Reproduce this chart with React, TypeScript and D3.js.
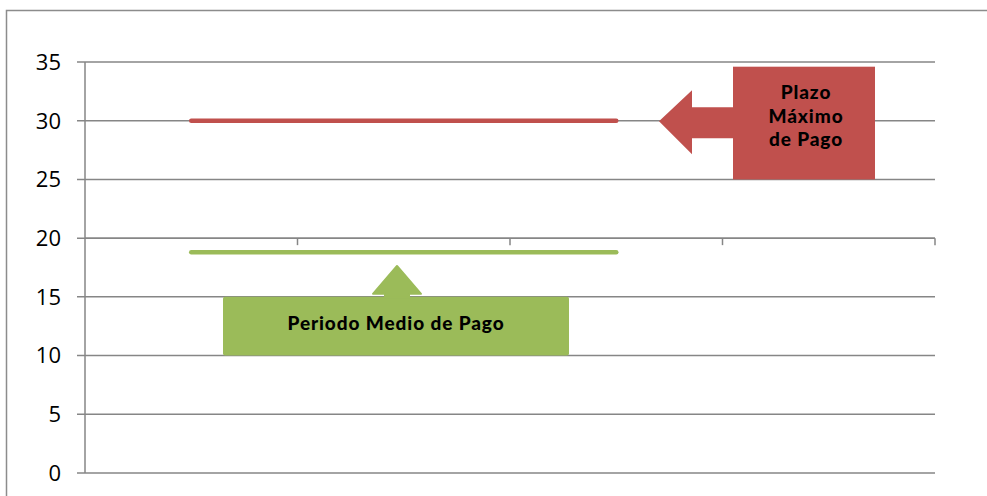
import React from "react";
import * as d3 from "d3";

const categories = ["A", "B", "C", "D"];
const plazoMaximo: (number | null)[] = [30, 30, 30, null];
const periodoMedio: (number | null)[] = [18.8, 18.8, 18.8, null];
const yTicks = [0, 5, 10, 15, 20, 25, 30, 35];
const axisCross = 20;
const redLabel = ["Plazo", "Máximo", "de Pago"];
const greenLabel = "Periodo Medio de Pago";

const W = 987;
const H = 496;
const RED = "#C0504D";
const GREEN = "#9BBB59";
const GRID = "#868686";

export default function App() {
  const x = d3.scaleBand<string>().domain(categories).range([85, 935]).paddingInner(0).paddingOuter(0);
  const y = d3.scaleLinear().domain([0, 35]).range([473, 62]);
  const cx = (c: string) => (x(c) as number) + x.bandwidth() / 2;

  const line = d3
    .line<[string, number | null]>()
    .defined((d) => d[1] != null)
    .x((d) => cx(d[0]))
    .y((d) => y(d[1] as number));

  const redData = categories.map((c, i) => [c, plazoMaximo[i]] as [string, number | null]);
  const greenData = categories.map((c, i) => [c, periodoMedio[i]] as [string, number | null]);

  const rx0 = 733, rx1 = 875;
  const ry0 = y(34.6), ry1 = y(25);
  const tipX = 659, tipY = y(30) + 0.5;
  const headX = 692;
  const redArrow = `M${rx0},${tipY - 14} L${headX},${tipY - 14} L${headX},${tipY - 31} L${tipX},${tipY} L${headX},${tipY + 33} L${headX},${tipY + 17} L${rx0},${tipY + 17} Z`;

  const gx0 = 223, gx1 = 569;
  const gy0 = y(15), gy1 = y(10);
  const gTipX = 397, gTipY = 266;
  const greenArrow = `M${gTipX - 12},${gy0 + 1} L${gTipX - 12},${gy0 - 3} L${gTipX - 24},${gy0 - 3} L${gTipX},${gTipY} L${gTipX + 24},${gy0 - 3} L${gTipX + 12},${gy0 - 3} L${gTipX + 12},${gy0 + 1} Z`;

  const ticksX = [...categories.map((c) => x(c) as number), 935].slice(1);

  const labelFont = {
    fontSize: 19,
    fontWeight: 900,
    fontFamily: "Lato, sans-serif",
    letterSpacing: 0.9,
  } as const;

  return (
    <svg
      width={W}
      height={H}
      style={{ position: "fixed", left: 0, top: 0, background: "#fff" }}
      fontFamily="'Open Sans', 'Noto Sans', sans-serif"
    >
      <rect x={6.5} y={10.5} width={W + 10} height={H + 10} fill="#fff" stroke="#8c8c8c" strokeWidth={1.5} />
      {yTicks.map((t) => (
        <g key={t}>
          <line x1={77} x2={935} y1={y(t)} y2={y(t)} stroke={GRID} strokeWidth={1.5} />
          <text x={61} y={y(t)} dy="0.36em" textAnchor="end" fontSize={22} fill="#000">
            {t}
          </text>
        </g>
      ))}
      <line x1={85} x2={85} y1={y(35)} y2={y(0)} stroke={GRID} strokeWidth={1.5} />
      <line x1={85} x2={935} y1={y(axisCross)} y2={y(axisCross)} stroke={GRID} strokeWidth={1.5} />
      {ticksX.map((tx, i) => (
        <line key={i} x1={tx} x2={tx} y1={y(axisCross)} y2={y(axisCross) + 7} stroke={GRID} strokeWidth={1.5} />
      ))}
      <path d={line(redData) || ""} fill="none" stroke={RED} strokeWidth={4.5} strokeLinecap="round" />
      <path d={line(greenData) || ""} fill="none" stroke={GREEN} strokeWidth={4.5} strokeLinecap="round" />

      <rect x={rx0} y={ry0} width={rx1 - rx0} height={ry1 - ry0} fill={RED} />
      <path d={redArrow} fill={RED} />
      {redLabel.map((s, i) => (
        <text key={s} x={(rx0 + rx1) / 2 + 2} y={99 + i * 23.5} textAnchor="middle" fill="#000" {...labelFont}>
          {s}
        </text>
      ))}

      <rect x={gx0} y={gy0} width={gx1 - gx0} height={gy1 - gy0} fill={GREEN} rx={2} />
      <path d={greenArrow} fill={GREEN} strokeLinejoin="round" stroke={GREEN} strokeWidth={2} />
      <text x={(gx0 + gx1) / 2} y={330} textAnchor="middle" fill="#000" {...labelFont}>
        {greenLabel}
      </text>
    </svg>
  );
}
